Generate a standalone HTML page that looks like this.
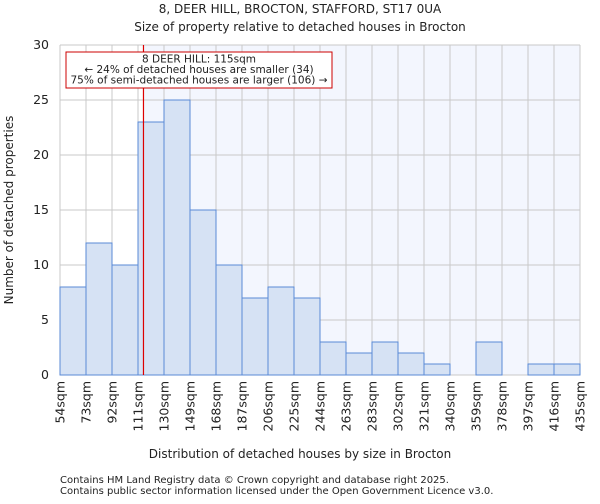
<!DOCTYPE html>
<html><head><meta charset="utf-8"><style>
body{margin:0;background:#fff;font-family:"DejaVu Sans","Liberation Sans",sans-serif;}
svg text{font-family:"DejaVu Sans","Liberation Sans",sans-serif;fill:#222;}
</style></head><body>
<svg id="chart" width="600" height="500">
<text x="300" y="13" font-size="12" text-anchor="middle">8, DEER HILL, BROCTON, STAFFORD, ST17 0UA</text>
<text x="300" y="31" font-size="12" text-anchor="middle">Size of property relative to detached houses in Brocton</text>
<g id="plot"></g>
<text x="300" y="458" font-size="12" text-anchor="middle">Distribution of detached houses by size in Brocton</text>
<text transform="translate(13,210) rotate(-90)" font-size="12" text-anchor="middle">Number of detached properties</text>
<text x="60" y="483" font-size="10">Contains HM Land Registry data © Crown copyright and database right 2025.</text>
<text x="60" y="494" font-size="10">Contains public sector information licensed under the Open Government Licence v3.0.</text>
</svg>
<script>
const binLabels=["54sqm","73sqm","92sqm","111sqm","130sqm","149sqm","168sqm","187sqm","206sqm","225sqm","244sqm","263sqm","283sqm","302sqm","321sqm","340sqm","359sqm","378sqm","397sqm","416sqm","435sqm"];
const binEdges=[54,73,92,111,130,149,168,187,206,225,244,263,283,302,321,340,359,378,397,416,435];
const counts=[8,12,10,23,25,15,10,7,8,7,3,2,3,2,1,0,3,0,1,1];
const yTicks=[0,5,10,15,20,25,30];
const subjectSize=115;

const NS="http://www.w3.org/2000/svg";
const L=60,R=580,T=45,B=375,yMax=30;
const nb=counts.length;
function xIdx(i){return L+(R-L)*i/nb;}
function xVal(v){for(let i=0;i<nb;i++){if(v<=binEdges[i+1]){return xIdx(i)+(v-binEdges[i])/(binEdges[i+1]-binEdges[i])*(R-L)/nb;}}return R;}
function y(v){return B-(B-T)*v/yMax;}
const g=document.getElementById('plot');
function mk(t,a){const e=document.createElementNS(NS,t);for(const k in a)e.setAttribute(k,a[k]);g.appendChild(e);return e;}
const sx=xVal(subjectSize);
let e=mk('rect',{x:sx,y:T,width:R-sx,height:B-T,fill:'#f3f6fe'});


for(let i=0;i<=nb;i++){
 e=mk('line',{x1:xIdx(i),x2:xIdx(i),y1:T,y2:B,stroke:'#c8c8c8','stroke-width':1});
 
 
 const tx=xIdx(i);
 e=mk('text',{transform:`translate(${tx+4.5},${B+6}) rotate(-90)`,'font-size':12.5,'text-anchor':'end'});
 e.textContent=binLabels[i];
 
 
}
yTicks.forEach(v=>{
 e=mk('line',{x1:L,x2:R,y1:y(v),y2:y(v),stroke:'#c8c8c8','stroke-width':1});
 
 
 e=mk('text',{x:L-11,y:y(v)+4,'font-size':12.5,'text-anchor':'end'});
 e.textContent=v;
 
 
});
counts.forEach((c,i)=>{
 if(c<=0)return;
 e=mk('rect',{x:xIdx(i),y:y(c),width:(R-L)/nb,height:B-y(c),fill:'#d6e2f4',stroke:'#5a8ad6','stroke-width':1});
 
 
});
e=mk('line',{x1:sx,x2:sx,y1:T,y2:B,stroke:'#dd0000','stroke-width':1.2});


e=mk('rect',{x:66,y:52,width:266,height:36,fill:'#fff',stroke:'#cc0000','stroke-width':1});


["8 DEER HILL: 115sqm","← 24% of detached houses are smaller (34)","75% of semi-detached houses are larger (106) →"].forEach((t,i)=>{
 e=mk('text',{x:199,y:62.5+i*10.5,'font-size':10.5,'text-anchor':'middle'});
 e.textContent=t;
 
 
});
</script>
</body></html>
